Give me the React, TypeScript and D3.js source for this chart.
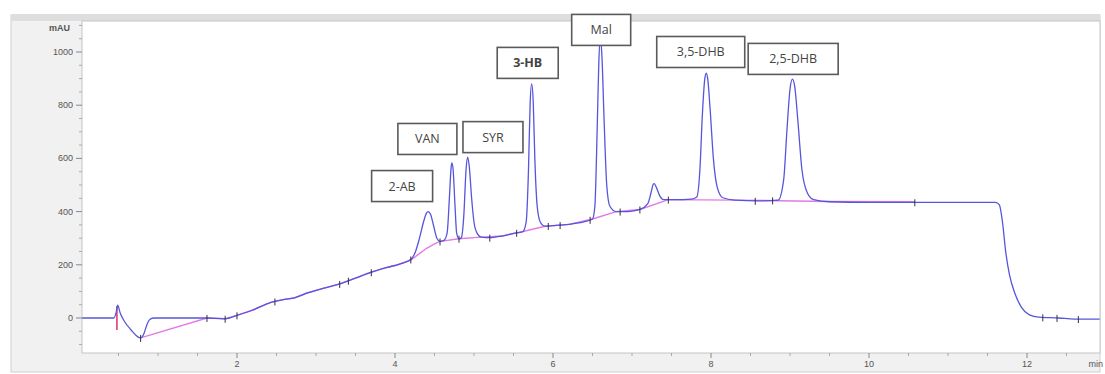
import React from "react";
import * as d3 from "d3";

// chromatogram trace: retention time (min) / absorbance (mAU)
const traceTime = [
  0.04, 0.44, 0.47, 0.49, 0.52, 0.58, 0.66, 0.74, 0.78, 0.82, 0.86, 0.9, 0.95,
  1.62, 1.85, 2.0, 2.2, 2.42, 2.6, 2.73, 2.9, 3.1, 3.3, 3.5, 3.7, 3.9, 4.05,
  4.2, 4.26, 4.31, 4.36, 4.4, 4.42, 4.45, 4.49, 4.53, 4.57,
  4.62, 4.66, 4.69, 4.71, 4.72, 4.735, 4.76, 4.78, 4.81,
  4.84, 4.87, 4.9, 4.92, 4.94, 4.97, 5.0, 5.04, 5.09,
  5.2, 5.35, 5.5, 5.62,
  5.66, 5.69, 5.71, 5.73, 5.75, 5.77, 5.8, 5.84, 5.9,
  6.0, 6.2, 6.4, 6.5,
  6.53, 6.56, 6.58, 6.6, 6.62, 6.645, 6.68, 6.72, 6.8,
  6.95, 7.1, 7.2,
  7.24, 7.27, 7.28, 7.31, 7.35, 7.4, 7.55, 7.75, 7.82,
  7.86, 7.89, 7.92, 7.94, 7.96, 7.99, 8.03, 8.08, 8.15, 8.3, 8.6, 8.85,
  8.92, 8.96, 9.0, 9.03, 9.06, 9.1, 9.15, 9.22, 9.3, 9.5, 10.0, 11.0, 11.6,
  11.65, 11.69, 11.73, 11.78, 11.85, 11.93, 12.03, 12.15, 12.4, 12.6, 12.92,
];
const traceValue = [
  0, 0, 20, 48, 20, -15, -45, -70, -75, -60, -25, -5, 0,
  0, -3, 10, 30, 58, 70, 76, 95, 112, 128, 150, 172, 190, 202,
  220, 250, 300, 360, 395, 400, 390, 345, 300, 288,
  292, 320, 460, 565, 583, 560, 420, 320, 298,
  302, 380, 560, 605, 570, 450, 360, 318, 304,
  302, 308, 318, 325,
  360, 560, 800, 880, 810, 600, 420, 360, 345,
  347, 352, 362, 372,
  420, 720, 960, 1055, 980, 760, 500, 420, 400,
  400, 408, 430,
  470, 503, 505, 490, 460, 445, 445, 447, 455,
  560, 760, 895, 920, 895, 780, 600, 490, 452, 443, 440, 443,
  520, 700, 860, 898, 870, 740, 560, 470, 445, 437, 435, 435, 435,
  425, 360, 250, 160, 90, 40, 12, 3, 0, -4, -4,
];

// integration baseline (pink)
const baseTime = [
  0.78, 1.62, 1.85, 2.0, 2.2, 2.42, 2.6, 2.73, 2.9, 3.1, 3.3, 3.5, 3.7, 3.9,
  4.05, 4.2, 4.3, 4.4, 4.5, 4.57, 4.81, 5.09, 5.35, 5.62, 5.9, 6.2, 6.5, 6.8,
  7.1, 7.46, 8.3, 9.5, 10.58,
];
const baseValue = [
  -75, 0, -3, 10, 30, 58, 70, 76, 95, 112, 128, 150, 172, 190,
  202, 218, 240, 262, 279, 288, 298, 304, 308, 325, 345, 352, 372, 400,
  408, 445, 443, 438, 437,
];
const spikeTime = 0.48;
const spikeRange = [-45, 45];

// peak start/end tick marks
const markTimes = [
  0.78, 1.62, 1.85, 2.0, 2.48, 3.3, 3.41, 3.7, 4.2, 4.57, 4.81, 5.2, 5.54,
  5.94, 6.09, 6.47, 6.85, 7.1, 7.46, 8.56, 8.78, 10.58, 12.2, 12.38, 12.65,
];

// peak annotations, anchored by time / mAU at box centre
const peakNames = ["2-AB", "VAN", "SYR", "3-HB", "Mal", "3,5-DHB", "2,5-DHB"];
const peakBoxTime = [4.09, 4.41, 5.24, 5.68, 6.61, 7.87, 9.04];
const peakBoxValue = [496, 673, 680, 959, 1083, 1000, 974];
const peakBoxWidth = [61, 59, 60, 61, 59, 88, 90];
const peakBold = [false, false, false, true, false, false, false];

const yTicks = [0, 200, 400, 600, 800, 1000];
const xTicks = [2, 4, 6, 8, 10, 12];

const W = 1105;
const H = 374;
const plot = { left: 82, top: 21, right: 1100, bottom: 353 };

export default function App() {
  const x = d3.scaleLinear().domain([0.038, 12.924]).range([plot.left, plot.right]);
  const y = d3.scaleLinear().domain([-131.6, 1116.5]).range([plot.bottom, plot.top]);

  const trace = traceTime.map((t, i) => [t, traceValue[i]] as [number, number]);
  const base = baseTime.map((t, i) => [t, baseValue[i]] as [number, number]);

  const line = d3
    .line<[number, number]>()
    .x((d) => x(d[0]))
    .y((d) => y(d[1]))
    .curve(d3.curveMonotoneX);
  const straight = d3
    .line<[number, number]>()
    .x((d) => x(d[0]))
    .y((d) => y(d[1]));

  const bisect = d3.bisector((d: [number, number]) => d[0]).left;
  const valueAt = (t: number) => {
    const i = Math.max(1, Math.min(trace.length - 1, bisect(trace, t)));
    const a = trace[i - 1];
    const b = trace[i];
    return a[1] + ((t - a[0]) / (b[0] - a[0])) * (b[1] - a[1]);
  };

  const minorY = d3.range(-100, 1101, 50).filter((v) => v % 200 !== 0);
  const minorX = d3.range(0.5, 13, 0.5).filter((v) => v % 2 !== 0);
  const font = "Liberation Sans, Arial, sans-serif";

  return (
    <svg
      width={W}
      height={H}
      style={{ position: "absolute", left: 0, top: 0, background: "#fff" }}
    >
      {/* frame */}
      <rect x={11} y={15} width={plot.right - 11} height={357} fill="#f1f1f1" stroke="#cfcfcf" />
      <rect x={11} y={14} width={plot.right - 11} height={7} fill="#dedede" />
      <rect
        x={plot.left}
        y={plot.top}
        width={plot.right - plot.left}
        height={plot.bottom - plot.top}
        fill="#fff"
        stroke="#c4c4c4"
      />

      <defs>
        <clipPath id="plotclip">
          <rect x={plot.left} y={plot.top} width={plot.right - plot.left} height={plot.bottom - plot.top} />
        </clipPath>
      </defs>

      {/* y axis */}
      <g fontFamily={font} fontSize={9} fill="#555">
        {yTicks.map((v) => (
          <g key={v}>
            <line x1={plot.left - 6} x2={plot.left} y1={y(v)} y2={y(v)} stroke="#888" />
            <text x={plot.left - 9} y={y(v) + 3} textAnchor="end">
              {v}
            </text>
          </g>
        ))}
        {minorY.map((v) => (
          <line key={v} x1={plot.left - 3} x2={plot.left} y1={y(v)} y2={y(v)} stroke="#aaa" />
        ))}
        <text x={plot.left - 12} y={31} textAnchor="end" fontWeight="bold">
          mAU
        </text>
      </g>

      {/* x axis */}
      <g fontFamily={font} fontSize={9} fill="#555">
        {xTicks.map((t) => (
          <g key={t}>
            <line x1={x(t)} x2={x(t)} y1={plot.bottom} y2={plot.bottom + 5} stroke="#888" />
            <text x={x(t)} y={plot.bottom + 14} textAnchor="middle">
              {t}
            </text>
          </g>
        ))}
        {minorX.map((t) => (
          <line key={t} x1={x(t)} x2={x(t)} y1={plot.bottom} y2={plot.bottom + 3} stroke="#aaa" />
        ))}
        <text x={W - 2} y={plot.bottom + 14} textAnchor="end">
          min
        </text>
      </g>

      <g clipPath="url(#plotclip)">
        {/* integration baseline */}
        <path d={straight(base) || ""} fill="none" stroke="#e47ae4" strokeWidth={1.4} />
        <line
          x1={x(spikeTime)}
          x2={x(spikeTime)}
          y1={y(spikeRange[0])}
          y2={y(spikeRange[1])}
          stroke="#e0306a"
          strokeWidth={1.5}
        />
        {/* signal */}
        <path d={line(trace) || ""} fill="none" stroke="#5555dd" strokeWidth={1.3} />
        {markTimes.map((t) => (
          <line
            key={t}
            x1={x(t)}
            x2={x(t)}
            y1={y(valueAt(t)) - 3}
            y2={y(valueAt(t)) + 4}
            stroke="#333"
            strokeWidth={1}
          />
        ))}
      </g>

      {/* peak labels */}
      <g fontFamily="Open Sans, Liberation Sans, sans-serif" fontSize={12.5} fill="#444">
        {peakNames.map((name, i) => {
          const cx = x(peakBoxTime[i]);
          const cy = y(peakBoxValue[i]);
          const w = peakBoxWidth[i];
          const h = 31;
          return (
            <g key={name}>
              <rect
                x={cx - w / 2}
                y={cy - h / 2}
                width={w}
                height={h}
                fill="#fff"
                stroke="#5a5a5a"
                strokeWidth={1.6}
              />
              <text
                x={cx}
                y={cy + 4.5}
                textAnchor="middle"
                fontWeight={peakBold[i] ? "bold" : "normal"}
              >
                {name}
              </text>
            </g>
          );
        })}
      </g>
    </svg>
  );
}
